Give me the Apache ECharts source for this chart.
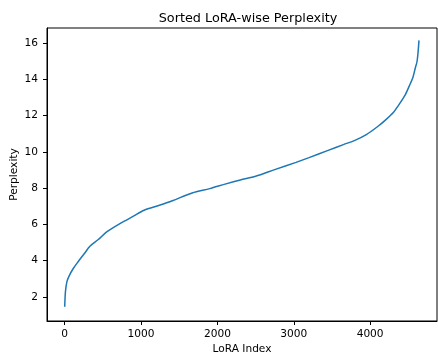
<!DOCTYPE html>
<html>
<head>
<meta charset="utf-8">
<script src="https://cdn.jsdelivr.net/npm/echarts@6/dist/echarts.min.js"></script>
<style>
html,body{margin:0;padding:0;background:#fff;}
#chart{width:438px;height:353px;}
</style>
</head>
<body>
<div id="chart"></div>
<script>
const loraIndex = [0, 10, 30, 60, 110, 180, 260, 330, 440, 550, 740, 900, 1040, 1240, 1410, 1670, 1900, 2100, 2300, 2500, 2750, 3030, 3200, 3450, 3650, 3800, 3950, 4100, 4200, 4310, 4360, 4460, 4530, 4560, 4590, 4615, 4630, 4640];
const perplexity = [1.45, 2.3, 2.85, 3.17, 3.55, 3.96, 4.4, 4.79, 5.16, 5.58, 6.08, 6.45, 6.78, 7.05, 7.3, 7.73, 7.97, 8.22, 8.45, 8.65, 9.02, 9.42, 9.68, 10.08, 10.4, 10.63, 10.95, 11.4, 11.75, 12.2, 12.5, 13.15, 13.8, 14.1, 14.6, 15.0, 15.6, 16.15];
const xTicks = [0, 1000, 2000, 3000, 4000];
const yTicks = [2, 4, 6, 8, 10, 12, 14, 16];

const data = loraIndex.map((x, i) => [x, perplexity[i]]);
const font = 'DejaVu Sans';
const chart = echarts.init(document.getElementById('chart'), null, {renderer: 'canvas'});
chart.setOption({
  animation: false,
  title: {
    text: 'Sorted LoRA-wise Perplexity',
    left: 243, top: 7, textAlign: 'center',
    textStyle: {fontFamily: font, fontSize: 12.8, fontWeight: 'normal', color: '#000'}
  },
  grid: {left: 47, right: 1, top: 28, bottom: 32, outerBoundsMode: 'none', containLabel: false, show: true, borderColor: '#000', borderWidth: 1, backgroundColor: 'transparent'},
  xAxis: {
    type: 'value', min: -232, max: 4876,
    name: 'LoRA Index', nameLocation: 'middle', nameGap: 23, nameMoveOverlap: false,
    nameTextStyle: {fontFamily: font, fontSize: 10.6, color: '#000'},
    axisLine: {show: true, onZero: false, lineStyle: {color: '#000', width: 1}},
    axisTick: {show: true, length: 4, customValues: xTicks, lineStyle: {color: '#000'}},
    axisLabel: {customValues: xTicks, formatter: v => String(v), fontFamily: font, fontSize: 10.6, color: '#000', margin: 8},
    splitLine: {show: false}
  },
  yAxis: {
    type: 'value', min: 0.665, max: 16.835,
    name: 'Perplexity', nameLocation: 'middle', nameGap: 27, nameRotate: 90, nameMoveOverlap: false,
    nameTextStyle: {fontFamily: font, fontSize: 10.6, color: '#000'},
    axisLine: {show: true, onZero: false, lineStyle: {color: '#000', width: 1}},
    axisTick: {show: true, length: 4, customValues: yTicks, lineStyle: {color: '#000'}},
    axisLabel: {customValues: yTicks, formatter: v => String(v), fontFamily: font, fontSize: 10.6, color: '#000', margin: 9},
    splitLine: {show: false}
  },
  series: [{
    type: 'line', data: data, showSymbol: false, smooth: 0.3,
    lineStyle: {color: '#1f77b4', width: 1.5}
  }]
});
</script>
</body>
</html>
